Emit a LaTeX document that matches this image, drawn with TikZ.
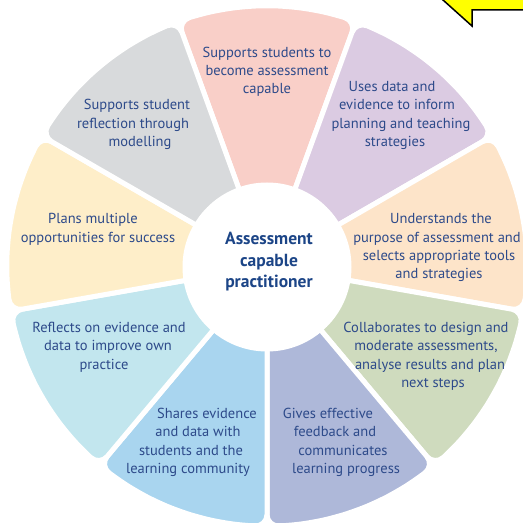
\documentclass[tikz,border=0pt]{standalone}
\usepackage{fontspec}
\setmainfont{PT Sans}
\definecolor{cpink}{HTML}{F9CFC8}
\definecolor{cpurple}{HTML}{DBCBE2}
\definecolor{corange}{HTML}{FDE4C9}
\definecolor{cgreen}{HTML}{CFDBBE}
\definecolor{clav}{HTML}{AEB8D9}
\definecolor{cblue}{HTML}{A9D5EF}
\definecolor{ccyan}{HTML}{C2E6EE}
\definecolor{cyellow}{HTML}{FEEEC9}
\definecolor{cgrey}{HTML}{D8DADC}
\definecolor{txt}{HTML}{2D4A8A}
\definecolor{ctxt}{HTML}{1C4587}
\definecolor{arrowyellow}{HTML}{FFFF00}
\tikzset{
  seg/.style={draw=white, line width=5pt, rounded corners=12pt, line join=round},
  lab/.style={text=txt, font=\fontsize{14.5}{17}\selectfont, inner sep=0pt, anchor=base},
  ctr/.style={text=ctxt, font=\fontsize{17.5}{20}\selectfont\bfseries, inner sep=0pt, anchor=base},
  callout/.style={fill=arrowyellow, draw=black, line width=1.5pt, line join=miter}
}
\begin{document}
\begin{tikzpicture}[x=1pt,y=1pt]
\useasboundingbox (0,0) rectangle (523,523);
\clip (0,0) rectangle (523,523);
% wheel
\begin{scope}[shift={(267,257)}]
\foreach \a/\col in {90/cpink,50/cpurple,10/corange,-30/cgreen,-70/clav,-110/cblue,-150/ccyan,170/cyellow,130/cgrey}{
  \path[seg, fill=\col] ({\a-20}:60) -- ({\a-20}:260.5)
    \foreach \t in {1,...,7}{ -- ({\a-20+5*\t}:260.5)}
    -- ({\a+20}:260.5) -- ({\a+20}:60) -- cycle;
}
\fill[white] (0,-1) circle (84.5);
\end{scope}
% callout arrow (cut off)
\draw[callout] (420,545) -- (443,523) -- (472,497) -- (472,513) -- (540,513) -- (540,545) -- cycle;
% segment texts (pixel y -> 523-y, baseline)
\node[lab] (p1) at (267,523-58) {Supports students to};
\node[lab] (p2) at (267,523-76) {become assessment};
\node[lab] (p3) at (267,523-94) {capable};
\node[lab] (u1) at (392,523-92) {Uses data and};
\node[lab] (u2) at (397,523-110) {evidence to inform};
\node[lab] (u3) at (401,523-129) {planning and teaching};
\node[lab] (u4) at (395,523-147) {strategies};
\node[lab] (o1) at (441,523-224) {Understands the};
\node[lab] (o2) at (437,523-243) {purpose of assessment and};
\node[lab] (o3) at (439,523-261) {selects appropriate tools};
\node[lab] (o4) at (439,523-279) {and strategies};
\node[lab] (g1) at (426,523-333) {Collaborates to design and};
\node[lab] (g2) at (426,523-351) {moderate assessments,};
\node[lab] (g3) at (430,523-370) {analyse results and plan};
\node[lab] (g4) at (433,523-388) {next steps};
\node[lab] (l1) at (328,523-419) {Gives effective};
\node[lab] (l2) at (335,523-437) {feedback and};
\node[lab] (l3) at (343,523-456) {communicates};
\node[lab] (l4) at (346,523-474) {learning progress};
\node[lab] (s1) at (207,523-419) {Shares evidence};
\node[lab] (s2) at (198,523-437) {and data with};
\node[lab] (s3) at (191,523-456) {students and the};
\node[lab] (s4) at (188,523-474) {learning community};
\node[lab] (r1) at (109,523-333) {Reflects on evidence and};
\node[lab] (r2) at (108,523-351) {data to improve own};
\node[lab] (r3) at (104,523-370) {practice};
\node[lab] (m1) at (93,523-224) {Plans multiple};
\node[lab] (m2) at (98,523-243) {opportunities for success};
\node[lab] (q1) at (137,523-110) {Supports student};
\node[lab] (q2) at (133,523-129) {reflection through};
\node[lab] (q3) at (140,523-147) {modelling};
% centre
\node[ctr] (c1) at (269,523-245) {Assessment};
\node[ctr] (c2) at (269,523-267) {capable};
\node[ctr] (c3) at (269,523-288) {practitioner};
\end{tikzpicture}
\end{document}
